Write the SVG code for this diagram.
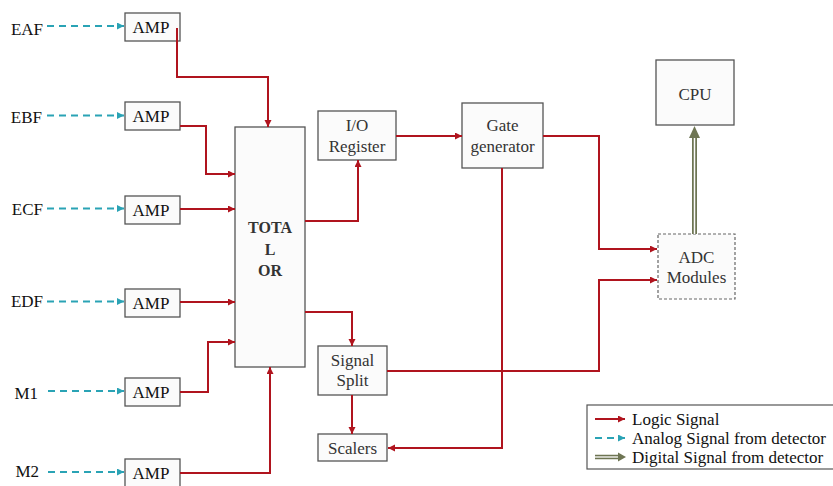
<svg xmlns="http://www.w3.org/2000/svg" width="833" height="486" viewBox="0 0 833 486">
<style>
.box{fill:#fbfbfb;stroke:#555;stroke-width:1.3}
.lbl{font-family:"Liberation Serif","Times New Roman",serif;font-size:17px;fill:#111}
.bt{font-family:"Liberation Serif","Times New Roman",serif;font-size:17px;fill:#333;text-anchor:middle}
.bold{font-weight:bold;font-size:16px}
.logic{fill:none;stroke:#b0141e;stroke-width:2;marker-end:url(#ar)}
.analog{fill:none;stroke:#2aa3b5;stroke-width:2;stroke-dasharray:7,5;marker-end:url(#at)}
</style>
<defs>
<marker id="ar" markerUnits="userSpaceOnUse" markerWidth="8" markerHeight="8" refX="7" refY="3.5" orient="auto">
<path d="M0,0 L7,3.5 L0,7 z" fill="#b0141e"/>
</marker>
<marker id="at" markerUnits="userSpaceOnUse" markerWidth="8" markerHeight="8" refX="7" refY="3.5" orient="auto">
<path d="M0,0 L7,3.5 L0,7 z" fill="#2aa3b5"/>
</marker>
</defs>

<g id="labels">
<text class="lbl" x="43" y="35" text-anchor="end">EAF</text>
<text class="lbl" x="42" y="123" text-anchor="end">EBF</text>
<text class="lbl" x="43" y="215" text-anchor="end">ECF</text>
<text class="lbl" x="43" y="307" text-anchor="end">EDF</text>
<text class="lbl" x="38" y="399" text-anchor="end">M1</text>
<text class="lbl" x="39" y="477" text-anchor="end">M2</text>
</g>

<g id="amp1"><rect class="box" x="125" y="13" width="55" height="28"/><text class="lbl" x="151" y="33" text-anchor="middle">AMP</text></g>
<g id="amp2"><rect class="box" x="125" y="102" width="55" height="28"/><text class="lbl" x="151" y="122" text-anchor="middle">AMP</text></g>
<g id="amp3"><rect class="box" x="125" y="196" width="55" height="28"/><text class="lbl" x="151" y="216" text-anchor="middle">AMP</text></g>
<g id="amp4"><rect class="box" x="125" y="289" width="55" height="28"/><text class="lbl" x="151" y="309" text-anchor="middle">AMP</text></g>
<g id="amp5"><rect class="box" x="125" y="378" width="55" height="28"/><text class="lbl" x="151" y="398" text-anchor="middle">AMP</text></g>
<g id="amp6"><rect class="box" x="125" y="459" width="55" height="28"/><text class="lbl" x="151" y="479" text-anchor="middle">AMP</text></g>

<g id="total"><rect class="box" x="235" y="127" width="70" height="240"/>
<text class="bt bold" x="270" y="233">TOTA</text><text class="bt bold" x="270" y="255">L</text><text class="bt bold" x="270" y="276">OR</text></g>

<g id="io"><rect class="box" x="318" y="111" width="78" height="49"/><text class="bt" x="357" y="131">I/O</text><text class="bt" x="357" y="152">Register</text></g>
<g id="gate"><rect class="box" x="462" y="103" width="81" height="65"/><text class="bt" x="502.5" y="131">Gate</text><text class="bt" x="502.5" y="152">generator</text></g>
<g id="split"><rect class="box" x="318" y="346" width="69" height="49"/><text class="bt" x="352.5" y="366">Signal</text><text class="bt" x="352.5" y="386">Split</text></g>
<g id="scalers"><rect class="box" x="318" y="434" width="69" height="27"/><text class="bt" x="352.5" y="454">Scalers</text></g>
<g id="cpu"><rect class="box" x="656" y="60" width="78" height="65"/><text class="bt" x="695" y="100" fill="#222">CPU</text></g>
<g id="adc"><rect x="658" y="234" width="77" height="65" fill="#fbfbfb" stroke="#666" stroke-width="1.2" stroke-dasharray="3,2"/><text class="bt" x="696.5" y="263">ADC</text><text class="bt" x="696.5" y="283">Modules</text></g>

<g id="connectors">
<path class="analog" d="M47,26 H124"/>
<path class="analog" d="M47,115.5 H124"/>
<path class="analog" d="M47,208.5 H124"/>
<path class="analog" d="M47,301.5 H124"/>
<path class="analog" d="M48,391 H124"/>
<path class="analog" d="M48,472 H124"/>

<path class="logic" d="M177,28 V77 H268 V127"/>
<path class="logic" d="M180,126 H206 V174 H235"/>
<path class="logic" d="M180,209 H235"/>
<path class="logic" d="M180,302 H235"/>
<path class="logic" d="M180,392 H208 V342 H235"/>
<path class="logic" d="M180,473 H270 V367"/>
<path class="logic" d="M305,221 H358 V160"/>
<path class="logic" d="M396,136 H462"/>
<path class="logic" d="M543,136 H599 V249 H657"/>
<path class="logic" d="M502,168 V448 H388"/>
<path class="logic" d="M305,312 H352 V346"/>
<path class="logic" d="M387,371 H599 V280 H657"/>
<path class="logic" d="M352,395 V434"/>

<path d="M694.5,234 V137" stroke="#6e7553" stroke-width="5" fill="none"/>
<path d="M694.5,234 V137" stroke="#fbfbfb" stroke-width="1.5" fill="none"/>
<path d="M694.5,126 L689,138 L700,138 z" fill="#6e7553"/>
</g>

<g id="legend">
<rect x="587" y="405" width="260" height="64" fill="#fff" stroke="#555" stroke-width="1.2"/>
<path class="logic" d="M595,419 H625"/>
<path class="analog" d="M595,438 H625"/>
<path d="M595,457 H619" stroke="#6e7553" stroke-width="4.5" fill="none"/>
<path d="M595,457 H619" stroke="#fff" stroke-width="1.3" fill="none"/>
<path d="M626,457 L618,452.5 L618,461.5 z" fill="#6e7553"/>
<text class="lbl" x="632" y="425">Logic Signal</text>
<text class="lbl" x="632" y="444">Analog Signal from detector</text>
<text class="lbl" x="632" y="463">Digital Signal from detector</text>
</g>
</svg>
